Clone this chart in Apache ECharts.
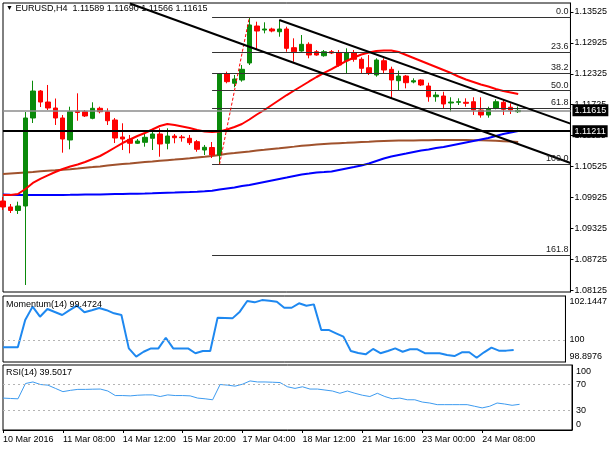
<!DOCTYPE html>
<html><head><meta charset="utf-8">
<script src="https://cdn.jsdelivr.net/npm/echarts@6/dist/echarts.min.js"></script>
<style>html,body{margin:0;padding:0;background:#fff}#c{width:610px;height:450px}</style>
</head><body><div id="c"></div>
<script>
// ---- data ----
const tickLabels = ['10 Mar 2016','11 Mar 08:00','14 Mar 12:00','15 Mar 20:00','17 Mar 04:00','18 Mar 12:00','21 Mar 16:00','23 Mar 00:00','24 Mar 08:00'];
const barsPerLabel = 8;
const slotCount = 77; // 70 bars + empty space on the right

const open  = [1.09855,1.09739,1.09671,1.09758,1.11467,1.11991,1.11777,1.11661,1.11467,1.11040,
               1.11603,1.11589,1.11461,1.11655,1.11589,1.11428,1.11098,1.11053,1.10976,1.10995,
               1.11073,1.11156,1.10976,1.11117,1.11098,1.11073,1.11007,1.10845,1.10894,1.10748,
               1.12321,1.12141,1.12205,1.12535,1.13253,1.13175,1.13195,1.13142,1.13195,1.12832,
               1.12768,1.12898,1.12754,1.12676,1.12754,1.12735,1.12579,1.12735,1.12607,1.12443,
               1.12302,1.12579,1.12412,1.12191,1.12282,1.12166,1.12205,1.12088,1.11880,1.11894,
               1.11758,1.11772,1.11772,1.11783,1.11622,1.11525,1.11655,1.11772,1.11675,1.11589];
const close = [1.09739,1.09671,1.09758,1.11467,1.11991,1.11777,1.11661,1.11467,1.11059,1.11589,
               1.11574,1.11506,1.11655,1.11589,1.11414,1.11078,1.11059,1.10976,1.11020,1.11092,
               1.11156,1.10962,1.11117,1.11084,1.11084,1.10987,1.10859,1.10898,1.10748,1.12321,
               1.12172,1.12224,1.12412,1.13273,1.13156,1.13195,1.13156,1.13195,1.12820,1.12754,
               1.12898,1.12690,1.12690,1.12754,1.12729,1.12496,1.12735,1.12607,1.12432,1.12335,
               1.12593,1.12399,1.12205,1.12282,1.12152,1.12191,1.12108,1.11880,1.11913,1.11739,
               1.11777,1.11783,1.11752,1.11622,1.11525,1.11636,1.11783,1.11636,1.11622,1.11615];
const low   = [1.09680,1.09622,1.09603,1.08224,1.11370,1.11680,1.11622,1.11331,1.10793,1.10859,
               1.11414,1.11486,1.11442,1.11558,1.11331,1.10981,1.10845,1.10781,1.10962,1.10910,
               1.10845,1.10715,1.10859,1.10976,1.11007,1.10943,1.10812,1.10748,1.10690,1.10566,
               1.12141,1.12063,1.12172,1.12496,1.12787,1.13111,1.13131,1.13045,1.12754,1.12560,
               1.12754,1.12626,1.12676,1.12657,1.12709,1.12463,1.12335,1.12560,1.12335,1.12302,
               1.12269,1.12335,1.11849,1.12010,1.12043,1.12141,1.12088,1.11783,1.11783,1.11661,
               1.11589,1.11719,1.11686,1.11525,1.11473,1.11473,1.11636,1.11525,1.11544,1.11566];
const high  = [1.09933,1.09797,1.09842,1.11583,1.12191,1.12010,1.12108,1.11845,1.11525,1.11686,
               1.11946,1.11622,1.11772,1.11686,1.11655,1.11467,1.11364,1.11137,1.11059,1.11156,
               1.11253,1.11267,1.11267,1.11156,1.11137,1.11137,1.11040,1.10943,1.11001,1.12341,
               1.12366,1.12302,1.12496,1.13427,1.13337,1.13325,1.13220,1.13370,1.13240,1.13014,
               1.13078,1.12937,1.12787,1.12787,1.12787,1.12787,1.12820,1.12787,1.12645,1.12690,
               1.12626,1.12626,1.12463,1.12385,1.12302,1.12238,1.12218,1.12152,1.11977,1.11977,
               1.11869,1.11849,1.11849,1.11869,1.11869,1.11686,1.11830,1.11816,1.11752,1.11690];

const maRed   = [1.09972,1.09970,1.09991,1.10088,1.10205,1.10283,1.10351,1.10418,1.10476,1.10525,
                 1.10564,1.10613,1.10671,1.10729,1.10807,1.10894,1.10981,1.11049,1.11117,1.11176,
                 1.11243,1.11311,1.11350,1.11331,1.11302,1.11273,1.11234,1.11205,1.11195,1.11205,
                 1.11243,1.11292,1.11350,1.11438,1.11535,1.11622,1.11719,1.11816,1.11913,1.12001,
                 1.12088,1.12176,1.12263,1.12341,1.12418,1.12496,1.12574,1.12642,1.12700,1.12739,
                 1.12768,1.12777,1.12777,1.12748,1.12690,1.12632,1.12574,1.12515,1.12457,1.12399,
                 1.12341,1.12273,1.12214,1.12166,1.12117,1.12079,1.12030,1.11991,1.11962,1.11933];
const maBrown = [1.10379,1.10389,1.10399,1.10409,1.10418,1.10432,1.10442,1.10451,1.10463,1.10474,
                 1.10486,1.10500,1.10513,1.10527,1.10543,1.10558,1.10572,1.10583,1.10597,1.10611,
                 1.10622,1.10636,1.10648,1.10659,1.10673,1.10686,1.10700,1.10713,1.10729,1.10748,
                 1.10772,1.10787,1.10803,1.10818,1.10834,1.10849,1.10865,1.10880,1.10896,1.10911,
                 1.10927,1.10939,1.10950,1.10960,1.10970,1.10978,1.10985,1.10993,1.11001,1.11007,
                 1.11015,1.11020,1.11024,1.11028,1.11030,1.11032,1.11034,1.11036,1.11038,1.11040,
                 1.11040,1.11040,1.11038,1.11036,1.11034,1.11030,1.11024,1.11017,1.11009,1.11001];
const maBlue  = [1.09981,1.09976,1.09972,1.09972,1.09972,1.09972,1.09972,1.09972,1.09974,1.09975,
                 1.09977,1.09979,1.09981,1.09983,1.09986,1.09989,1.09992,1.09995,1.09998,1.10001,
                 1.10005,1.10010,1.10014,1.10018,1.10024,1.10030,1.10037,1.10045,1.10055,1.10078,
                 1.10098,1.10117,1.10146,1.10166,1.10195,1.10224,1.10253,1.10282,1.10311,1.10341,
                 1.10370,1.10389,1.10409,1.10418,1.10428,1.10457,1.10486,1.10515,1.10545,1.10583,
                 1.10632,1.10680,1.10719,1.10748,1.10777,1.10807,1.10836,1.10855,1.10884,1.10904,
                 1.10933,1.10962,1.10991,1.11020,1.11049,1.11078,1.11117,1.11156,1.11185,1.11214];

const momentum = [99.61,99.61,99.61,101.07,101.79,101.25,101.66,101.50,101.34,101.60,
                  101.84,101.49,101.60,101.72,101.60,101.43,101.34,99.55,99.11,99.37,
                  99.55,99.55,100.12,99.55,99.55,99.55,99.29,99.41,99.41,101.20,
                  101.18,101.16,101.52,102.09,102.02,102.14,102.10,102.05,101.73,101.73,
                  101.97,101.84,101.91,100.54,100.54,100.36,100.18,99.41,99.30,99.23,
                  99.52,99.29,99.41,99.55,99.37,99.50,99.50,99.29,99.29,99.29,
                  99.20,99.14,99.34,99.34,99.05,99.34,99.59,99.43,99.43,99.47];
const rsi = [49.1,48.5,48.0,71.5,73.9,70.0,69.0,64.0,59.0,61.0,
             62.5,62.5,62.8,63.0,60.0,53.0,53.0,52.5,53.5,54.0,
             54.0,51.5,54.0,53.0,53.0,52.5,49.1,48.0,46.5,70.0,
             69.0,67.5,70.5,75.5,73.9,73.9,73.5,73.0,66.5,64.0,
             66.5,63.0,63.0,61.5,60.0,56.5,60.0,56.5,53.5,51.5,
             56.5,51.5,48.0,49.1,46.5,46.5,43.0,41.5,39.0,39.0,
             39.0,39.0,39.0,36.5,34.0,36.5,41.5,40.0,38.0,39.5];

const priceTicks = [1.08125,1.08725,1.09325,1.09925,1.10525,1.11125,1.11725,1.12325,1.12925,1.13525];
const momTicks = [98.8976,100,102.1447];
const rsiTicks = [0,30,70,100];
const fibLevels = [['0.0',1.13427],['23.6',1.12752],['38.2',1.12334],['50.0',1.11997],['61.8',1.11659],['100.0',1.10566],['161.8',1.08798]];
const fibStartBar = 28, fibEndBar = 76;
const fibDiagonal = [[29,1.10566],[33,1.13427]];
const trendLines = [[[17,1.13690],[76,1.10593]], [[37,1.13370],[76,1.11358]]];
const currentPrice = 1.11615;
const levelPrice = 1.11211;
const headerText = 'EURUSD,H4  1.11589 1.11690 1.11566 1.11615';
const momTitle = 'Momentum(14) 99.4724';
const rsiTitle = 'RSI(14) 39.5017';

// ---- chart ----
const FONT = 'Liberation Sans';
const cats = Array.from({length: slotCount}, (_, i) => String(i));
const candles = open.map((o, i) => [o, close[i], low[i], high[i]]);
const showTick = i => i % barsPerLabel === 0 && i / barsPerLabel < tickLabels.length;

const fibLines = fibLevels.map(([t, p]) => [
  {coord: [fibStartBar, p], lineStyle: {color: '#333', width: 1, type: 'solid'},
   label: {show: true, formatter: t, position: 'insideEndTop', color: '#222', fontSize: 9, fontFamily: FONT, distance: [2, 1]}},
  {coord: [fibEndBar, p]}
]);
const tLines = trendLines.map(([a, b]) => [
  {coord: a, lineStyle: {color: '#000', width: 2, type: 'solid'}, label: {show: false}},
  {coord: b}
]);
const boxLabel = (txt) => ({show: true, position: 'end', formatter: txt, color: '#fff', backgroundColor: '#000',
  padding: [2, 2, 1, 2], fontSize: 9, fontFamily: FONT, distance: 2});
const hLine = (p, style) => [
  {coord: [0, p], lineStyle: style, label: boxLabel(p.toFixed(5))},
  {coord: [slotCount - 1, p]}
];

const xBase = (gi, show) => ({
  type: 'category', gridIndex: gi, data: cats, boundaryGap: false, show: show,
  axisLine: {show: show, lineStyle: {color: '#000'}},
  axisTick: {show: show, interval: (i) => showTick(i), length: 3, lineStyle: {color: '#000'}},
  axisLabel: {show: show, interval: (i) => showTick(i), align: 'left', margin: 5,
    formatter: (v) => tickLabels[Number(v) / barsPerLabel] || '', fontSize: 9, fontFamily: FONT, color: '#000'},
  splitLine: {show: false}
});

const option = {
  animation: false,
  backgroundColor: '#fff',
  title: [
    {text: '{a|▼} ' + headerText, left: 6, top: 4, padding: 0,
     textStyle: {fontSize: 9, fontWeight: 'normal', fontFamily: FONT, color: '#000', rich: {a: {fontSize: 7, color: '#000'}}}},
    {text: momTitle, left: 6, top: 300, padding: 0, textStyle: {fontSize: 9, fontWeight: 'normal', fontFamily: FONT, color: '#000'}},
    {text: rsiTitle, left: 6, top: 368, padding: 0, textStyle: {fontSize: 9, fontWeight: 'normal', fontFamily: FONT, color: '#000'}}
  ],
  grid: [
    {left: 3, right: 38, top: 3, height: 289, show: true, borderColor: '#000', borderWidth: 1, backgroundColor: '#fff'},
    {left: 3, right: 38, top: 296, height: 66, show: true, borderColor: '#000', borderWidth: 1, backgroundColor: '#fff'},
    {left: 3, right: 38, top: 365, height: 65, show: true, borderColor: '#000', borderWidth: 1, backgroundColor: '#fff'}
  ],
  xAxis: [xBase(0, false), xBase(1, false), xBase(2, true)],
  yAxis: [
    {type: 'value', gridIndex: 0, position: 'right', min: 1.08088, max: 1.13700, scale: true,
     axisLine: {show: true, lineStyle: {color: '#000'}},
     axisTick: {show: true, customValues: priceTicks, length: 3, lineStyle: {color: '#000'}},
     axisLabel: {customValues: priceTicks, formatter: v => v.toFixed(5), fontSize: 9, fontFamily: FONT, color: '#000', margin: 4},
     splitLine: {show: false}},
    {type: 'value', gridIndex: 1, position: 'right', min: 98.82, max: 102.36, scale: true,
     axisLine: {show: true, lineStyle: {color: '#000'}}, axisTick: {show: false},
     axisLabel: {customValues: momTicks, fontSize: 9, fontFamily: FONT, color: '#000', margin: 4,
       formatter: v => Math.abs(v - 100) < 1e-6 ? '100' : (v > 100 ? '{dn|' + v.toFixed(4) + '}' : '{up|' + v.toFixed(4) + '}'),
       rich: {dn: {padding: [4, 0, 0, 0], fontSize: 9, fontFamily: FONT}, up: {padding: [0, 0, 9, 0], fontSize: 9, fontFamily: FONT}}},
     splitLine: {show: false}},
    {type: 'value', gridIndex: 2, position: 'right', min: 0, max: 100,
     axisLine: {show: true, lineStyle: {color: '#000'}}, axisTick: {show: false},
     axisLabel: {customValues: rsiTicks, fontSize: 9, fontFamily: FONT, color: '#000', margin: 4,
       formatter: v => v === 100 ? '{dn|100}' : (v === 0 ? '{up|0}' : String(v)),
       rich: {dn: {padding: [13, 0, 0, 0], fontSize: 9, fontFamily: FONT}, up: {padding: [0, 0, 11, 0], fontSize: 9, fontFamily: FONT}}},
     splitLine: {show: false}}
  ],
  series: [
    {type: 'line', xAxisIndex: 0, yAxisIndex: 0, data: maBrown, showSymbol: false, z: 2,
     lineStyle: {color: '#a0522d', width: 2}},
    {type: 'line', xAxisIndex: 0, yAxisIndex: 0, data: maBlue, showSymbol: false, z: 2,
     lineStyle: {color: '#0000ff', width: 2}},
    {type: 'candlestick', xAxisIndex: 0, yAxisIndex: 0, data: candles, barWidth: 5, z: 3,
     itemStyle: {color: '#0a8a0a', color0: '#ff0000', borderColor: '#0a8a0a', borderColor0: '#ff0000', borderWidth: 1},
     markLine: {silent: true, symbol: ['none', 'none'], animation: false,
       data: [
         hLine(currentPrice, {color: '#8c8c8c', width: 1.5, type: 'solid'}),
         hLine(levelPrice, {color: '#000', width: 2, type: 'solid'}),
         ...fibLines,
         [{coord: fibDiagonal[0], lineStyle: {color: '#ff0000', width: 1, type: [3, 2]}, label: {show: false}}, {coord: fibDiagonal[1]}],
         ...tLines
       ]}},
    {type: 'line', xAxisIndex: 0, yAxisIndex: 0, data: maRed, showSymbol: false, z: 4,
     lineStyle: {color: '#ff0000', width: 2}},
    {type: 'line', xAxisIndex: 1, yAxisIndex: 1, data: momentum, showSymbol: false,
     lineStyle: {color: '#1e88f0', width: 2},
     markLine: {silent: true, symbol: ['none', 'none'], label: {show: false},
       lineStyle: {color: '#b4b4b4', width: 1, type: [2, 3]}, data: [{yAxis: 100}]}},
    {type: 'line', xAxisIndex: 2, yAxisIndex: 2, data: rsi, showSymbol: false,
     lineStyle: {color: '#3d9bf0', width: 1},
     markLine: {silent: true, symbol: ['none', 'none'], label: {show: false},
       lineStyle: {color: '#b4b4b4', width: 1, type: [2, 3]}, data: [{yAxis: 70}, {yAxis: 30}]}}
  ]
};
const chart = echarts.init(document.getElementById('c'), null, {renderer: 'canvas'});
chart.setOption(option);
</script>
</body></html>
